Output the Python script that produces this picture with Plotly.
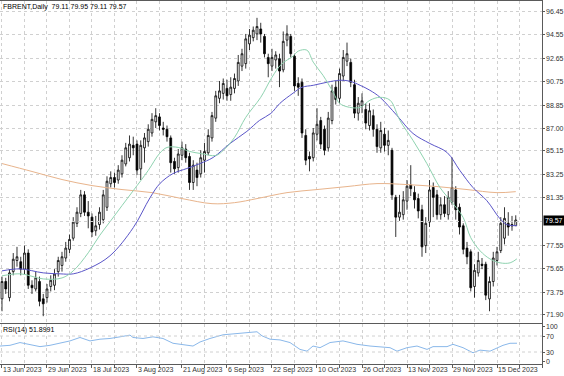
import plotly.graph_objects as go
from plotly.subplots import make_subplots

opens = [73.2,74.6,73.3,75.4,76.3,76.2,75.6,76.9,74.3,74.0,74.6,73.2,73.3,74.2,74.3,75.4,75.9,76.5,77.2,78.1,
         79.3,80.1,81.6,80.2,79.8,78.7,79.2,79.6,80.6,82.5,83.0,82.8,83.3,84.1,84.6,85.6,85.7,83.7,85.4,85.9,
         86.6,87.5,87.9,87.0,86.9,86.2,84.3,83.8,84.8,85.3,84.7,82.6,83.6,83.3,84.4,85.0,86.2,87.8,89.4,89.8,
         90.2,89.7,90.2,90.8,92.0,92.2,93.8,94.3,94.6,95.0,94.4,92.7,92.0,92.5,92.6,91.7,94.1,94.4,92.8,90.6,
         90.7,86.4,84.7,84.6,86.5,87.6,86.9,85.4,87.6,90.3,89.4,91.2,92.4,92.3,90.5,88.2,88.8,88.5,87.2,88.0,
         86.9,85.4,86.5,85.6,85.2,81.4,79.8,80.0,81.1,82.4,81.8,81.3,80.4,77.5,79.4,82.2,81.6,80.0,80.8,80.0,
         81.0,82.0,80.6,79.1,77.3,77.0,74.2,75.3,76.0,76.0,73.2,74.6,76.3,77.1,78.1,79.3,79.2,79.11]
highs = [75.0,74.9,75.6,76.9,77.4,76.6,77.5,77.2,74.7,75.4,75.0,73.6,74.4,75.1,75.6,76.6,77.0,77.8,78.4,79.8,
         80.6,82.0,81.9,81.1,80.1,79.9,80.6,82.0,83.1,83.5,83.4,84.0,84.8,85.8,86.4,86.3,86.0,86.0,86.6,87.3,
         88.2,88.6,88.2,87.5,87.2,86.4,84.6,85.3,85.9,85.7,85.0,84.4,84.2,85.2,85.8,86.9,88.3,90.0,90.8,91.0,
         90.9,91.1,91.4,92.9,93.4,94.6,95.0,95.2,95.9,95.5,94.6,93.0,93.4,93.2,93.0,94.8,95.3,94.6,93.0,91.1,
         91.0,86.9,85.1,87.0,88.6,87.9,87.2,88.3,90.5,90.8,91.8,93.3,93.9,92.6,90.9,89.5,89.8,89.0,89.0,88.5,
         87.3,87.5,87.0,86.8,85.4,81.6,81.6,81.9,82.8,84.0,82.3,81.7,80.8,79.8,82.8,82.6,82.0,81.4,81.5,81.9,
         84.6,82.3,80.9,79.3,77.8,77.2,76.0,77.0,76.5,76.2,75.0,77.0,77.4,79.8,80.6,80.2,79.9,79.95]
lows = [72.2,73.6,73.0,75.1,75.8,75.1,75.2,74.0,73.6,73.8,72.6,71.8,72.9,73.8,73.9,75.0,75.4,76.2,76.9,77.9,
        79.0,79.8,79.9,78.9,78.2,78.3,78.8,79.3,80.3,82.2,82.2,82.5,83.0,83.9,84.3,84.8,83.2,82.8,84.2,85.5,
        86.3,87.0,86.8,86.4,85.9,83.4,83.3,83.4,84.4,84.2,82.0,82.0,82.3,83.0,83.4,84.8,85.9,87.5,89.0,89.3,
        89.2,89.2,89.8,90.4,91.6,91.8,93.3,94.0,94.1,93.9,92.7,91.1,91.6,91.8,90.3,91.5,93.6,92.7,90.0,89.6,
        86.2,84.0,83.5,84.3,86.0,85.3,84.8,85.1,87.3,88.9,89.0,90.8,92.0,90.3,87.8,87.6,88.2,86.9,86.8,86.3,
        85.0,85.0,85.1,84.8,81.2,78.2,79.5,79.6,80.4,81.5,80.5,79.7,76.6,76.9,79.0,79.8,79.6,79.6,79.8,79.6,
        80.8,79.6,78.4,76.8,76.0,73.8,73.3,75.0,75.6,73.1,72.2,74.2,75.9,76.9,77.6,78.3,78.7,79.11]
closes = [74.6,74.0,75.3,76.4,76.6,75.6,76.9,74.3,74.1,74.9,73.0,72.8,74.0,74.7,75.2,76.3,76.6,77.3,78.0,79.4,
          80.2,81.6,80.2,79.9,78.6,79.1,80.2,81.6,82.7,83.0,82.6,83.6,84.4,85.4,85.7,85.4,83.6,85.6,86.2,86.9,
          87.7,88.0,87.2,86.9,86.3,84.2,83.7,84.9,85.4,84.6,82.6,84.0,83.0,84.6,85.1,86.4,88.0,89.6,90.0,90.6,
          89.6,90.3,91.0,92.3,93.0,94.2,94.5,94.9,95.2,94.6,93.0,92.2,92.7,92.9,91.6,94.0,94.6,93.0,90.4,90.3,
          86.6,84.4,84.5,86.6,87.3,85.7,85.2,87.8,90.0,89.3,91.4,92.7,93.0,90.7,88.2,89.0,89.2,87.4,88.4,86.9,
          85.5,86.8,85.6,86.0,81.6,79.8,80.2,81.2,82.3,82.1,81.2,80.3,77.4,79.3,82.0,81.4,80.0,80.8,80.1,81.4,
          82.2,80.4,79.0,77.2,76.6,74.1,75.5,76.3,75.9,73.5,74.6,76.5,77.0,79.3,79.7,79.0,79.1,79.57]

date_labels = ["13 Jun 2023", "29 Jun 2023", "18 Jul 2023", "3 Aug 2023", "21 Aug 2023", "6 Sep 2023",
               "22 Sep 2023", "10 Oct 2023", "26 Oct 2023", "13 Nov 2023", "29 Nov 2023", "15 Dec 2023"]
date_label_bars = [0, 12, 24, 36, 48, 60, 72, 84, 96, 108, 120, 132]

price_ticks = [96.45, 94.55, 92.65, 90.75, 88.85, 87.00, 85.15, 83.25, 81.35, 77.55, 75.65, 73.75, 71.90]
price_tick_text = ["96.45", "94.55", "92.65", "90.75", "88.85", "87.00", "85.15", "83.25", "81.35",
                   "77.55", "75.65", "73.75", "71.90"]
rsi_ticks = [95, 70, 30, 6]
rsi_tick_text = ["100", "70", "30", "0"]

ma_fast_bars = [0, 5, 11, 16, 19, 23, 26, 29, 32, 35, 39, 42, 44, 47, 50, 53, 57, 59, 62, 65, 69, 72, 74.5,
                77.6, 79, 81.3, 83, 85.6, 88.3, 90, 92.7, 95.5, 98.1, 100.8, 103.5, 106.1, 109.6, 113.3, 116.8,
                120.3, 123, 125, 127.5, 130.1, 132.8, 135.5, 137.3]
ma_fast = [75.06, 75.22, 74.81, 74.89, 75.46, 76.92, 78.30, 79.51, 80.73, 81.94, 83.57, 84.94, 85.43, 85.43,
           85.11, 84.94, 84.78, 85.19, 86.24, 87.86, 89.48, 91.10, 92.15, 92.80, 93.21, 93.29, 92.32, 91.26,
           89.89, 89.0, 88.67, 88.67, 89.24, 89.48, 89.24, 87.62, 86.0, 84.13, 82.19, 80.89, 79.76, 78.14,
           77.08, 76.43, 76.11, 76.11, 76.43]

ma_mid_bars = [0, 4.8, 11, 15.5, 19, 23.5, 28.8, 35, 39.5, 42.1, 45.6, 49.3, 52.8, 56.3, 60.8, 65.3, 68.7,
               71.7, 74.1, 77.6, 80, 83, 86.7, 90.1, 92.8, 95.5, 98.1, 100.8, 105.3, 109.6, 114.1, 118.7,
               122.1, 125.6, 129.3, 132.8, 134.7, 137.3]
ma_mid = [75.46, 75.62, 75.30, 75.22, 75.22, 75.70, 76.68, 78.95, 81.38, 82.51, 83.32, 83.73, 84.13, 84.62,
          85.75, 86.73, 87.62, 88.18, 88.99, 89.81, 90.29, 90.45, 90.70, 90.86, 90.78, 90.45, 90.05, 89.48,
          88.02, 86.56, 85.75, 85.02, 83.57, 82.19, 81.13, 79.67, 79.19, 79.11]

ma_slow_bars = [0, 8, 16, 24, 32, 40, 48, 56, 62, 68, 76, 84, 92, 100, 108, 116, 124, 132, 137]
ma_slow = [84.13, 83.49, 82.84, 82.35, 82.03, 81.78, 81.30, 80.89, 80.97, 81.30, 81.78, 82.03, 82.27, 82.51,
           82.43, 82.27, 82.03, 81.78, 81.86]

rsi_px = [0, 10, 20, 30, 40, 50, 60, 70, 80, 90, 100, 110, 120, 130, 133, 143, 153, 163, 173, 183, 193, 200,
          210, 223, 233, 243, 257, 262, 270, 280, 290, 300, 307, 313, 320, 330, 343, 350, 357, 370, 380, 390,
          397, 407, 417, 427, 433, 447, 453, 463, 473, 480, 490, 497, 503, 510, 517]
rsi = [44.9, 46.7, 53.6, 49.2, 43.4, 46.7, 51.8, 57.7, 66.3, 57.7, 62.0, 63.8, 67.9, 72.2, 66.3, 63.8, 67.9,
       63.8, 51.8, 49.2, 44.9, 55.0, 63.8, 73.0, 74.7, 77.3, 80.6, 70.4, 62.0, 60.2, 53.6, 36.5, 32.1, 44.9,
       40.8, 53.6, 57.7, 53.6, 49.2, 44.9, 43.4, 40.8, 32.1, 40.8, 44.9, 36.5, 43.4, 43.4, 49.2, 40.8, 28.1,
       34.7, 32.1, 40.8, 46.7, 51.8, 51.9]
rsi_bars = [(p - 2) / 3.75 for p in rsi_px]

n = len(closes)
bars = list(range(n))

fig = make_subplots(rows=2, cols=1, shared_xaxes=True, row_heights=[322, 40], vertical_spacing=1 / 363)

fig.add_trace(go.Candlestick(
    x=bars, open=opens, high=highs, low=lows, close=closes,
    increasing=dict(line=dict(color="#000000", width=0.8), fillcolor="#ffffff"),
    decreasing=dict(line=dict(color="#000000", width=0.8), fillcolor="#000000"),
    whiskerwidth=0, showlegend=False, hoverinfo="skip"), row=1, col=1)

fig.add_trace(go.Scatter(x=ma_slow_bars, y=ma_slow, mode="lines", line=dict(color="#e8b48c", width=1),
                         line_shape="spline", showlegend=False, hoverinfo="skip"), row=1, col=1)
fig.add_trace(go.Scatter(x=ma_mid_bars, y=ma_mid, mode="lines", line=dict(color="#5a55c8", width=1),
                         line_shape="spline", showlegend=False, hoverinfo="skip"), row=1, col=1)
fig.add_trace(go.Scatter(x=ma_fast_bars, y=ma_fast, mode="lines", line=dict(color="#8fd3b0", width=1),
                         line_shape="spline", showlegend=False, hoverinfo="skip"), row=1, col=1)

fig.add_trace(go.Scatter(x=rsi_bars, y=rsi, mode="lines", line=dict(color="#8ab8ea", width=1),
                         showlegend=False, hoverinfo="skip"), row=2, col=1)

font_family = "Liberation Sans, Arial, sans-serif"
axis_font = dict(family=font_family, size=7, color="#333333")
grid_col = "#d0d0d0"
frame_col = "#5a5a5a"

fig.update_xaxes(range=[-0.53, 144], showgrid=True, gridcolor=grid_col, griddash="dot", gridwidth=1,
                 tickmode="linear", tick0=0, dtick=6, showticklabels=False, ticks="",
                 showline=True, linecolor=frame_col, linewidth=1, mirror=True, zeroline=False,
                 rangeslider_visible=False, fixedrange=True)
fig.update_xaxes(ticks="outside", ticklen=3, tickcolor=frame_col, row=2, col=1)

fig.update_yaxes(range=[71.25, 97.26], side="right", tickmode="array", tickvals=price_ticks,
                 showticklabels=False, ticks="outside", ticklen=2,
                 tickcolor=frame_col, showgrid=True, gridcolor=grid_col, griddash="dot",
                 showline=True, linecolor=frame_col, linewidth=1, mirror=True, zeroline=False,
                 fixedrange=True, row=1, col=1)
fig.add_hline(y=79.45, line=dict(color=grid_col, width=1, dash="dot"), row=1, col=1)

fig.update_yaxes(range=[0, 100], side="right", tickmode="array", tickvals=rsi_ticks,
                 showticklabels=False, ticks="outside", ticklen=2,
                 tickcolor=frame_col, showgrid=False,
                 showline=True, linecolor=frame_col, linewidth=1, mirror=True, zeroline=False,
                 fixedrange=True, row=2, col=1)
for lvl in [30, 70]:
    fig.add_hline(y=lvl, line=dict(color=grid_col, width=1, dash="dot"), row=2, col=1)

annotations = []
for v, t in zip(price_ticks, price_tick_text):
    annotations.append(dict(x=1, y=v, xref="paper", yref="y", text=t, showarrow=False,
                            xanchor="left", yanchor="middle", xshift=2, font=axis_font))
for v, t in zip(rsi_ticks, rsi_tick_text):
    annotations.append(dict(x=1, y=v, xref="paper", yref="y2", text=t, showarrow=False,
                            xanchor="left", yanchor="middle", xshift=2, font=axis_font))
for b, lab in zip(date_label_bars, date_labels):
    annotations.append(dict(x=b, y=0, xref="x2", yref="paper", text=lab, showarrow=False,
                            xanchor="left", yanchor="top", yshift=0, xshift=-1, font=axis_font))
annotations.append(dict(x=0, y=1, xref="paper", yref="paper", text="FBRENT,Daily  79.11 79.95 79.11 79.57",
                        showarrow=False, xanchor="left", yanchor="top", xshift=1, yshift=0,
                        font=dict(family=font_family, size=7, color="#000000")))
annotations.append(dict(x=0, y=100, xref="paper", yref="y2", text="RSI(14) 51.8991",
                        showarrow=False, xanchor="left", yanchor="top", xshift=1, yshift=0,
                        font=dict(family=font_family, size=7, color="#000000")))
annotations.append(dict(x=1, y=closes[-1], xref="paper", yref="y", text="79.57", showarrow=False,
                        xanchor="left", yanchor="middle", xshift=1, bgcolor="#000000",
                        font=dict(family=font_family, size=7, color="#ffffff"), borderpad=1))
fig.update_layout(annotations=annotations)

fig.update_layout(width=564, height=376, margin=dict(l=0, r=22, t=1, b=12),
                  paper_bgcolor="#ffffff", plot_bgcolor="#ffffff", showlegend=False,
                  hovermode=False, dragmode=False)

fig.write_html("out.html", config={"displayModeBar": False, "staticPlot": True},
               post_script="document.body.style.margin='0';document.body.style.overflow='hidden';")
